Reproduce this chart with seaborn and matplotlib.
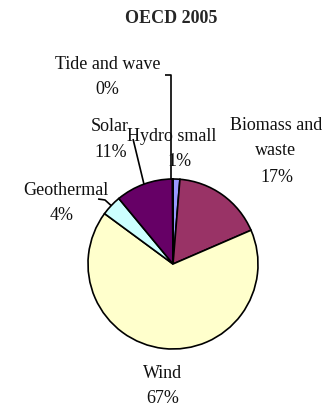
import numpy as np
import matplotlib
matplotlib.use("Agg")
import matplotlib.pyplot as plt
import seaborn as sns

# ---- data ----
categories = ["Hydro small", "Biomass and\nwaste", "Wind", "Geothermal", "Solar", "Tide and wave"]
shares = [1.3, 17.2, 66.6, 3.9, 10.9, 0.1]
title = "OECD 2005"

# ---- style ----
sns.set_theme(style="white")
plt.rcParams["font.family"] = ["Liberation Serif", "DejaVu Serif"]
palette = sns.color_palette(["#9999FF", "#993366", "#FFFFCC", "#CCFFFF", "#660066", "#FF8080"])

# label layout (data units, pie radius = 1): first-line centre, line step
label_pos = [(-0.02, 1.506), (1.21, 1.647), (-0.118, -1.271), (-1.26, 0.882), (-0.741, 1.624), (-0.765, 2.353)]
pct_pos = [(0.071, 1.212), (1.224, 1.035), (-0.118, -1.565), (-1.306, 0.588), (-0.729, 1.329), (-0.776, 2.059)]
# leader line anchor points near labels (None = no leader)
leader_pts = [None, None, None,
              [(-0.882, 0.765), (-0.80, 0.753)],
              [(-0.47, 1.47)],
              [(-0.094, 2.224), (-0.024, 2.224), (-0.024, 2.224)]]

fig = plt.figure(figsize=(3.25, 4.1), dpi=100)
ax = fig.add_axes([0, 0, 1, 1])
cx, cy, R = 173, 265, 85
ax.set_xlim(-cx / R, (325 - cx) / R)
ax.set_ylim(-(410 - cy) / R, cy / R)
ax.set_aspect("equal")
ax.axis("off")

wedges, _ = ax.pie(shares, colors=palette, startangle=90, counterclock=False,
                   radius=1.0, center=(0, 0), frame=True,
                   wedgeprops=dict(edgecolor="black", linewidth=1.2))
ax.set_xlim(-cx / R, (325 - cx) / R)
ax.set_ylim(-(410 - cy) / R, cy / R)
ax.axis("off")

fs = 13
total = sum(shares)
for i, (w, name) in enumerate(zip(wedges, categories)):
    pct = f"{shares[i] / total * 100:.0f}%"
    lines = name.split("\n")
    lx, ly = label_pos[i]
    step = 0.30
    for k, ln in enumerate(lines):
        ax.text(lx, ly - k * step, ln, ha="center", va="center", fontsize=fs, color="#111111")
    px, py = pct_pos[i]
    ax.text(px, py, pct, ha="center", va="center", fontsize=fs, color="#111111")
    if leader_pts[i] is not None:
        mid = np.deg2rad((w.theta1 + w.theta2) / 2)
        ex, ey = np.cos(mid), np.sin(mid)
        pts = list(leader_pts[i]) + [(ex, ey)]
        if i == 5:
            pts = [leader_pts[i][0], leader_pts[i][1], (leader_pts[i][1][0], ey)]
        xs, ys = zip(*pts)
        ax.plot(xs, ys, color="black", linewidth=1.2, solid_capstyle="butt")

ax.text(-0.024, (cy - 19) / R, title, ha="center", va="center", fontsize=fs, fontweight="bold")

fig.savefig("out.png", dpi=100, facecolor="white")
